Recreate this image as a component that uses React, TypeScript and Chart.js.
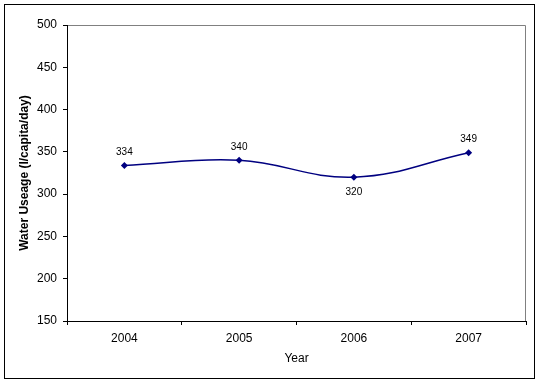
import React, { useEffect, useRef } from "react";
import { Chart, registerables } from "chart.js";

Chart.register(...registerables);

const categories = ["2004", "2005", "2006", "2007"];
const usage = [334, 340, 320, 349];
const yTicks = [150, 200, 250, 300, 350, 400, 450, 500];
const labelAbove = [true, true, false, true];
const yTitle = "Water Useage (l/capita/day)";
const xTitle = "Year";

const FONT = "'Liberation Sans', Arial, sans-serif";

const decorPlugin = {
  id: "decor",
  beforeDraw(chart: any) {
    const { ctx, chartArea } = chart;
    ctx.save();
    ctx.fillStyle = "#ffffff";
    ctx.fillRect(0, 0, chart.width, chart.height);
    ctx.strokeStyle = "#000000";
    ctx.lineWidth = 1;
    ctx.strokeRect(4.5, 4.5, 530, 374);
    ctx.strokeStyle = "#808080";
    ctx.beginPath();
    ctx.moveTo(chartArea.left, chartArea.top + 0.5);
    ctx.lineTo(chartArea.right - 0.5, chartArea.top + 0.5);
    ctx.lineTo(chartArea.right - 0.5, chartArea.bottom);
    ctx.stroke();
    ctx.restore();
  },
  afterDraw(chart: any) {
    const { ctx, chartArea } = chart;
    ctx.save();
    ctx.fillStyle = "#000000";
    ctx.textAlign = "center";
    ctx.textBaseline = "middle";
    ctx.font = `12px ${FONT}`;
    ctx.fillText(xTitle, (chartArea.left + chartArea.right) / 2, 359);
    ctx.translate(25, (chartArea.top + chartArea.bottom) / 2);
    ctx.rotate(-Math.PI / 2);
    ctx.font = `bold 12px ${FONT}`;
    ctx.fillText(yTitle, 0, 0);
    ctx.restore();

    // data labels
    const meta = chart.getDatasetMeta(0);
    ctx.save();
    ctx.font = `10px ${FONT}`;
    ctx.fillStyle = "#000000";
    ctx.textAlign = "center";
    ctx.textBaseline = "middle";
    meta.data.forEach((pt: any, i: number) => {
      const dy = labelAbove[i] ? -13 : 15;
      ctx.fillText(String(usage[i]), pt.x, pt.y + dy);
    });
    ctx.restore();
  },
};

export default function App() {
  const ref = useRef<HTMLCanvasElement>(null);
  useEffect(() => {
    document.body.style.margin = "0";
    const chart = new Chart(ref.current!, {
      type: "line",
      data: {
        labels: categories,
        datasets: [
          {
            data: usage,
            borderColor: "#000080",
            backgroundColor: "#000080",
            borderWidth: 1.5,
            tension: 0.4,
            pointStyle: "rectRot",
            pointRadius: 3.5,
            pointBorderWidth: 0,
            pointBackgroundColor: "#000080",
          },
        ],
      },
      options: {
        animation: false,
        responsive: false,
        maintainAspectRatio: false,
        layout: { padding: { left: 0, top: 25, right: 14, bottom: 0 } },
        plugins: { legend: { display: false }, tooltip: { enabled: false } },
        scales: {
          x: {
            type: "category",
            offset: true,
            grid: {
              offset: true,
              drawOnChartArea: false,
              drawTicks: true,
              tickLength: 4,
              color: "#000000",
            },
            border: { display: true, color: "#000000", width: 1 },
            ticks: { color: "#000000", font: { family: FONT, size: 12 }, padding: 6, maxRotation: 0 },
            afterFit(scale: any) {
              scale.height = 62;
            },
          },
          y: {
            min: 150,
            max: 500,
            afterBuildTicks(scale: any) {
              scale.ticks = yTicks.map((v) => ({ value: v }));
            },
            grid: {
              drawOnChartArea: false,
              drawTicks: true,
              tickLength: 4,
              color: "#000000",
            },
            border: { display: true, color: "#000000", width: 1 },
            ticks: { color: "#000000", font: { family: FONT, size: 12 }, padding: 6 },
            afterFit(scale: any) {
              scale.width = 67;
            },
          },
        },
      },
      plugins: [decorPlugin],
    } as any);
    return () => chart.destroy();
  }, []);
  return <canvas ref={ref} width={540} height={383} style={{ display: "block" }} />;
}
